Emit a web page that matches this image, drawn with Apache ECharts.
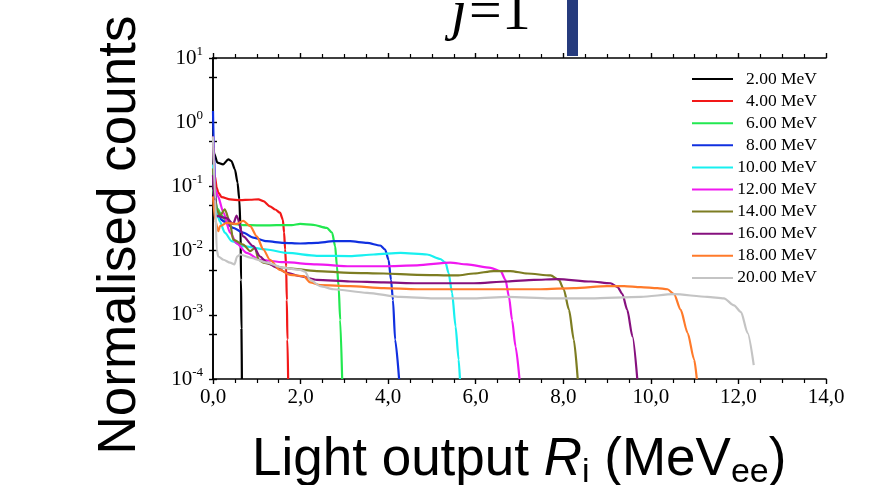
<!DOCTYPE html>
<html>
<head>
<meta charset="utf-8">
<script src="https://cdn.jsdelivr.net/npm/echarts@6/dist/echarts.min.js"></script>
<style>
  html, body { margin: 0; padding: 0; background: #ffffff; }
  #chart { width: 891px; height: 485px; }
</style>
</head>
<body>
<div id="chart"></div>
<script>
// Series names (incident neutron energy) and line colours
const seriesNames = ['2.00 MeV', '4.00 MeV', '6.00 MeV', '8.00 MeV', '10.00 MeV',
                     '12.00 MeV', '14.00 MeV', '16.00 MeV', '18.00 MeV', '20.00 MeV'];
const seriesColors = ['#000000', '#f21818', '#22e850', '#1030e0', '#18f0f0',
                      '#f018f0', '#7d7d22', '#86107e', '#ff7a2a', '#c4c4c4'];

// Light output (MeVee) vs normalised counts, one array per energy
const e02 = [[0,0.45],[0.03,0.32],[0.1,0.234],[0.23,0.22],[0.35,0.264],[0.42,0.248],[0.5,0.185],
  [0.56,0.115],[0.6,0.063],[0.63,0.021],[0.64,0.0035],[0.65,0.0006],[0.66,0.0001]];
const e04 = [[0,0.12],[0.04,0.148],[0.085,0.096],[0.12,0.08],[0.2,0.068],[0.39,0.0627],[0.62,0.061],
  [0.85,0.062],[1.04,0.063],[1.15,0.059],[1.3,0.049],[1.42,0.0437],[1.53,0.039],[1.595,0.0305],
  [1.624,0.019],[1.647,0.0104],[1.67,0.0057],[1.686,0.0017],[1.7,0.00041],[1.716,0.0001]];
const e06 = [[0,0.09],[0.05,0.06],[0.1,0.045],[0.2,0.035],[0.3,0.029],[0.45,0.026],[0.7,0.025],
  [1.0,0.0248],[1.3,0.0248],[1.6,0.0249],[1.8,0.025],[1.99,0.026],[2.29,0.0252],[2.6,0.0226],
  [2.72,0.019],[2.79,0.0117],[2.83,0.0057],[2.87,0.0027],[2.905,0.00083],[2.95,0.0001]];
const e08 = [[0,1.5],[0.02,0.38],[0.05,0.089],[0.085,0.034],[0.27,0.028],[0.46,0.0226],[0.69,0.019],
  [0.92,0.0159],[1.23,0.014],[1.61,0.0132],[1.99,0.0129],[2.37,0.0132],[2.75,0.014],[3.13,0.014],
  [3.52,0.0132],[3.82,0.012],[3.93,0.0104],[4.01,0.0072],[4.065,0.0035],[4.11,0.0017],[4.16,0.00041],
  [4.25,0.0001]];
const e10 = [[0,0.22],[0.046,0.049],[0.16,0.028],[0.27,0.019],[0.43,0.014],[0.69,0.0117],[1.23,0.0104],
  [1.69,0.0092],[2.37,0.0083],[3.13,0.0082],[3.67,0.0087],[4.28,0.0092],[4.89,0.0087],[5.19,0.0074],
  [5.31,0.0065],[5.38,0.0045],[5.46,0.0022],[5.54,0.00066],[5.61,0.0002],[5.64,0.0001]];
const e12 = [[0,0.6],[0.05,0.09],[0.11,0.071],[0.24,0.039],[0.39,0.019],[0.54,0.013],[0.77,0.0092],
  [1.075,0.0072],[1.61,0.0066],[2.37,0.0061],[3.13,0.0057],[3.9,0.0057],[4.66,0.0059],[5.42,0.0065],
  [5.8,0.0061],[6.34,0.0054],[6.57,0.0048],[6.68,0.0035],[6.76,0.0019],[6.83,0.00083],[6.91,0.00032],
  [7.0,0.0001]];
const e14 = [[0,0.19],[0.085,0.044],[0.16,0.035],[0.27,0.044],[0.39,0.027],[0.46,0.0148],[0.69,0.0124],
  [0.85,0.0098],[0.96,0.011],[1.04,0.0072],[1.15,0.0065],[1.61,0.0054],[2.37,0.0048],[3.13,0.0045],
  [3.9,0.0044],[4.66,0.0042],[5.57,0.0041],[5.96,0.0044],[6.41,0.0048],[6.79,0.0048],[7.18,0.0044],
  [7.71,0.0041],[7.9,0.0035],[8.01,0.0025],[8.13,0.0012],[8.24,0.00041],[8.33,0.0001]];
const e16 = [[0,0.15],[0.05,0.035],[0.31,0.032],[0.46,0.026],[0.54,0.035],[0.69,0.0166],[0.92,0.0117],
  [1.075,0.0081],[1.23,0.0065],[1.46,0.0054],[1.69,0.0045],[1.99,0.004],[2.37,0.0035],[3.13,0.0033],
  [3.9,0.0032],[4.66,0.0031],[5.96,0.0031],[6.72,0.0033],[7.33,0.0035],[7.87,0.0036],[8.63,0.0033],
  [9.08,0.0031],[9.24,0.0027],[9.35,0.0021],[9.46,0.0012],[9.58,0.00046],[9.69,0.0001]];
const e18 = [[0,0.07],[0.05,0.03],[0.12,0.02],[0.16,0.024],[0.31,0.027],[0.54,0.026],[0.69,0.029],
  [0.85,0.024],[1.0,0.0166],[1.15,0.0104],[1.3,0.0072],[1.53,0.005],[1.76,0.0042],[2.07,0.004],
  [2.22,0.0032],[2.45,0.0029],[3.13,0.0028],[3.9,0.0026],[4.66,0.0025],[5.42,0.0025],[6.72,0.0025],
  [7.48,0.0025],[8.24,0.0026],[9.0,0.0028],[9.39,0.0028],[9.77,0.0027],[10.15,0.0026],[10.38,0.0025],
  [10.53,0.0021],[10.68,0.0012],[10.84,0.00052],[10.99,0.0002],[11.05,0.0001]];
const e20 = [[0,0.6],[0.05,0.063],[0.085,0.0104],[0.12,0.0081],[0.24,0.0072],[0.39,0.0065],[0.49,0.0061],
  [0.55,0.0081],[0.62,0.0087],[0.85,0.0078],[1.23,0.0065],[1.61,0.0054],[1.99,0.005],[2.1,0.0047],
  [2.22,0.0035],[2.45,0.0028],[2.75,0.0025],[3.52,0.0022],[4.28,0.0019],[5.04,0.0018],[5.96,0.0018],
  [6.72,0.0019],[7.71,0.0018],[8.63,0.0018],[9.77,0.0019],[10.53,0.0021],[11.29,0.0019],[11.67,0.0018],
  [11.9,0.0014],[12.06,0.0011],[12.21,0.00052],[12.35,0.000165]];
const seriesData = [e02, e04, e06, e08, e10, e12, e14, e16, e18, e20];

// Axis ranges and tick positions
const xRange = [0, 14];
const xStep = 2;
const yRange = [1e-4, 10];
const yTickValues = [1e-4, 5e-4, 1e-3, 5e-3, 1e-2, 5e-2, 1e-1, 5e-1, 1, 5, 10];

const serif = '"Liberation Serif", "DejaVu Serif", serif';
const sans = '"Liberation Sans", Arial, sans-serif';

const frameLine = { show: true, lineStyle: { color: '#000', width: 1.6 } };

function xAxisDef(pos, labels) {
  return {
    type: 'value', position: pos, min: xRange[0], max: xRange[1], interval: xStep,
    axisLine: frameLine,
    axisTick: { show: true, inside: false, length: 5, lineStyle: { color: '#000', width: 1.4 } },
    minorTick: { show: true, splitNumber: 4, length: 4, lineStyle: { color: '#000', width: 1.2 } },
    splitLine: { show: false }, minorSplitLine: { show: false },
    axisLabel: labels ? {
      show: true, margin: 8, color: '#000', fontFamily: serif, fontSize: 21,
      formatter: v => v.toFixed(1).replace('.', ',')
    } : { show: false }
  };
}

function yAxisDef(pos, labels) {
  return {
    type: 'log', logBase: 10, position: pos, min: yRange[0], max: yRange[1], splitNumber: 5,
    axisLine: frameLine,
    axisTick: { show: true, inside: false, length: 4, customValues: yTickValues,
                lineStyle: { color: '#000', width: 1.4 } },
    splitLine: { show: false },
    axisLabel: labels ? {
      show: true, margin: 10, color: '#000', fontFamily: serif,
      formatter: v => '{b|10}{s|' + Math.round(Math.log10(v)) + '}',
      rich: {
        b: { fontFamily: serif, fontSize: 21, lineHeight: 26, color: '#000' },
        s: { fontFamily: serif, fontSize: 13, lineHeight: 12, verticalAlign: 'top', color: '#000' }
      }
    } : { show: false }
  };
}

const chart = echarts.init(document.getElementById('chart'), null, { renderer: 'canvas' });

chart.setOption({
  animation: false,
  backgroundColor: '#ffffff',
  grid: { left: 213, right: 65, top: 58, bottom: 106, containLabel: false },
  xAxis: [xAxisDef('bottom', true), xAxisDef('top', false)],
  yAxis: [yAxisDef('left', true), yAxisDef('right', false)],
  legend: {
    orient: 'vertical', left: 692, top: 70, padding: 0,
    icon: 'rect', itemWidth: 41, itemHeight: 2, itemGap: 4.1,
    data: seriesNames,
    formatter: n => '{r|' + n + '}',
    textStyle: {
      rich: { r: { fontFamily: serif, fontSize: 17.5, color: '#000', width: 79, align: 'right', lineHeight: 17 } }
    }
  },
  series: seriesNames.map((name, i) => ({
    name: name,
    type: 'line',
    xAxisIndex: 0, yAxisIndex: 0,
    data: seriesData[i],
    showSymbol: false, symbol: 'none',
    smooth: 0.25, smoothMonotone: 'x',
    clip: true,
    lineStyle: { color: seriesColors[i], width: 2.2 },
    itemStyle: { color: seriesColors[i] }
  })),
  graphic: [
    { type: 'text', left: 451, top: -15,
      style: { text: 'j', font: 'italic 58px ' + serif, fill: '#000' } },
    { type: 'text', left: 469, top: -15,
      style: { text: '=1', font: '58px ' + serif, fill: '#000' } },
    { type: 'rect', shape: { x: 567, y: 0, width: 11, height: 56 },
      style: { fill: '#263b7d' } },
    { type: 'text', x: 120, y: 235, rotation: Math.PI / 2,
      style: { text: 'Normalised counts', font: '53px ' + sans, fill: '#000',
               align: 'center', verticalAlign: 'middle' } },
    { type: 'text', x: 252, y: 430,
      style: {
        text: '{a|Light output }{i|R}{s|i}{a| (MeV}{s|ee}{a|)}',
        verticalAlign: 'top', align: 'left',
        rich: {
          a: { font: '53px ' + sans, fill: '#000', lineHeight: 60 },
          i: { font: 'italic 53px ' + sans, fill: '#000', lineHeight: 60 },
          s: { font: '34px ' + sans, fill: '#000', lineHeight: 28, verticalAlign: 'bottom' }
        }
      } }
  ]
});
</script>
</body>
</html>
